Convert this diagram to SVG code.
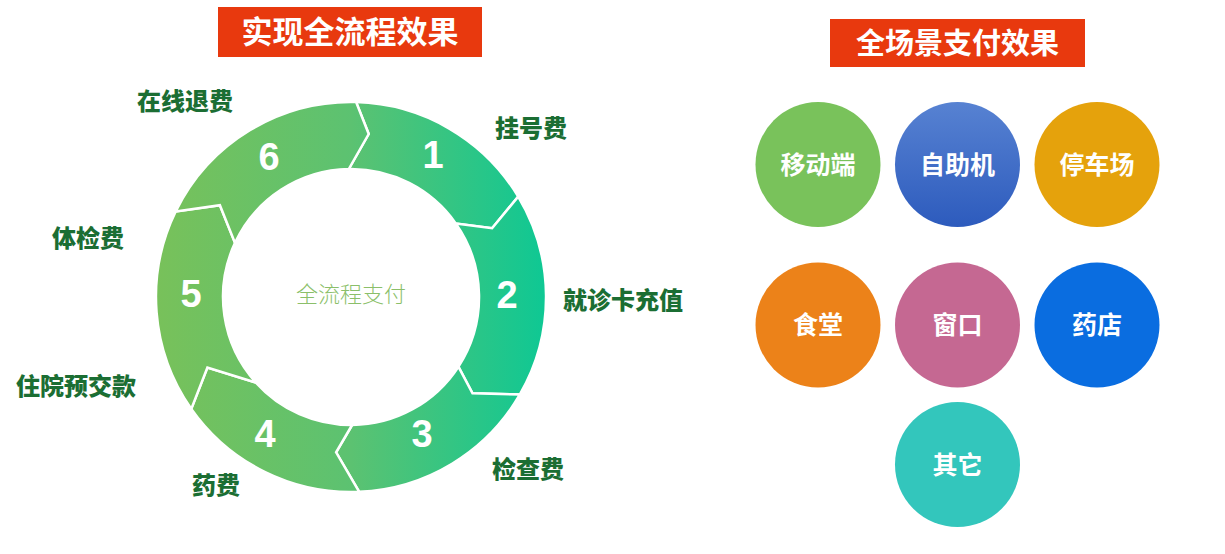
<svg xmlns="http://www.w3.org/2000/svg" width="1225" height="554" viewBox="0 0 1225 554">
<defs>
<linearGradient id="ringGrad" gradientUnits="userSpaceOnUse" x1="156" y1="0" x2="546" y2="0">
<stop offset="0" stop-color="#78c15a"/>
<stop offset="0.5" stop-color="#5cc271"/>
<stop offset="1" stop-color="#0ec894"/>
</linearGradient>
<linearGradient id="blueGrad" x1="0" y1="0" x2="0" y2="1">
<stop offset="0" stop-color="#5782d2"/>
<stop offset="1" stop-color="#2d5bbd"/>
</linearGradient>
<style>
.seg{fill:url(#ringGrad);stroke:#ffffff;stroke-width:2.5;stroke-linejoin:miter}
.num{font-family:"Liberation Sans","Noto Sans",sans-serif;font-weight:700;font-size:38px;fill:#ffffff;text-anchor:middle}
.lbl{font-family:"Noto Sans CJK SC","Noto Sans",sans-serif;font-weight:900;font-size:24px;fill:#1b6e33;text-anchor:middle}
.title{font-family:"Noto Sans CJK SC","Noto Sans",sans-serif;font-weight:700;fill:#ffffff;text-anchor:middle}
.tbox{fill:#e8390e}
.clbl{font-family:"Noto Sans CJK SC","Noto Sans",sans-serif;font-weight:700;font-size:25px;fill:#ffffff;text-anchor:middle}
.center{font-family:"Noto Sans CJK SC","Noto Sans",sans-serif;font-weight:300;font-size:22px;fill:#8bbf6a;text-anchor:middle}
</style>
</defs>
<rect width="1225" height="554" fill="#ffffff"/>

<g id="title-left">
<rect class="tbox" x="218" y="7" width="264" height="50"/>
<text class="title" x="350" y="43" font-size="31">实现全流程效果</text>
</g>
<g id="title-right">
<rect class="tbox" x="830" y="19" width="255" height="48"/>
<text class="title" x="957.5" y="54" font-size="29">全场景支付效果</text>
</g>

<g id="ring">
<g id="seg1">
<path class="seg" d="M356.1,102.1 A195,195 0 0 1 518.2,196.6 L492.1,228.2 L455.9,223.6 A128,128 0 0 0 348.8,169 L368.7,134 Z"/>
<text class="num" x="433" y="168">1</text>
</g>
<g id="seg2">
<path class="seg" d="M518.2,196.6 A195,195 0 0 1 519.9,394.5 L472.5,393.3 L458.4,366.7 A128,128 0 0 0 455.9,223.6 L492.1,228.2 Z"/>
<text class="num" x="507" y="308">2</text>
</g>
<g id="seg3">
<path class="seg" d="M519.9,394.5 A195,195 0 0 1 359.2,491.8 L336.1,452.3 L352.1,425 A128,128 0 0 0 458.4,366.7 L472.5,393.3 Z"/>
<text class="num" x="422" y="447">3</text>
</g>
<g id="seg4">
<path class="seg" d="M359.2,491.8 A195,195 0 0 1 191.3,408.9 L207.4,367.6 L255.9,382.6 A128,128 0 0 0 352.1,425 L336.1,452.3 Z"/>
<text class="num" x="265" y="447">4</text>
</g>
<g id="seg5">
<path class="seg" d="M191.3,408.9 A195,195 0 0 1 175.7,211.5 L219.9,205.2 L235,242.9 A128,128 0 0 0 255.9,382.6 L207.4,367.6 Z"/>
<text class="num" x="191" y="307">5</text>
</g>
<g id="seg6">
<path class="seg" d="M175.7,211.5 A195,195 0 0 1 356.1,102.1 L368.7,134 L348.8,169 A128,128 0 0 0 235,242.9 L219.9,205.2 Z"/>
<text class="num" x="269" y="170">6</text>
</g>
<g id="ring-center">
<text class="center" x="351" y="302">全流程支付</text>
</g>
</g>

<g id="ring-labels">
<text class="lbl" x="531" y="137">挂号费</text>
<text class="lbl" x="623" y="309">就诊卡充值</text>
<text class="lbl" x="528" y="478">检查费</text>
<text class="lbl" x="216" y="494">药费</text>
<text class="lbl" x="76" y="395">住院预交款</text>
<text class="lbl" x="88" y="247">体检费</text>
<text class="lbl" x="185" y="110">在线退费</text>
</g>

<g id="connectors"></g>

<g id="c-mobile"><circle cx="818" cy="164.5" r="62.5" fill="#79c25b"/><text class="clbl" x="818" y="174">移动端</text></g>
<g id="c-kiosk"><circle cx="957.5" cy="164.5" r="62.5" fill="url(#blueGrad)"/><text class="clbl" x="957.5" y="174">自助机</text></g>
<g id="c-parking"><circle cx="1097" cy="164.5" r="62.5" fill="#e5a20c"/><text class="clbl" x="1097" y="174">停车场</text></g>
<g id="c-canteen"><circle cx="818" cy="325" r="62.5" fill="#ec8219"/><text class="clbl" x="818" y="334">食堂</text></g>
<g id="c-window"><circle cx="957.5" cy="325" r="62.5" fill="#c56892"/><text class="clbl" x="957.5" y="334">窗口</text></g>
<g id="c-pharmacy"><circle cx="1097" cy="325" r="62.5" fill="#0a6de0"/><text class="clbl" x="1097" y="334">药店</text></g>
<g id="c-other"><circle cx="957.5" cy="464.5" r="62.5" fill="#33c6bc"/><text class="clbl" x="957.5" y="474">其它</text></g>
</svg>
